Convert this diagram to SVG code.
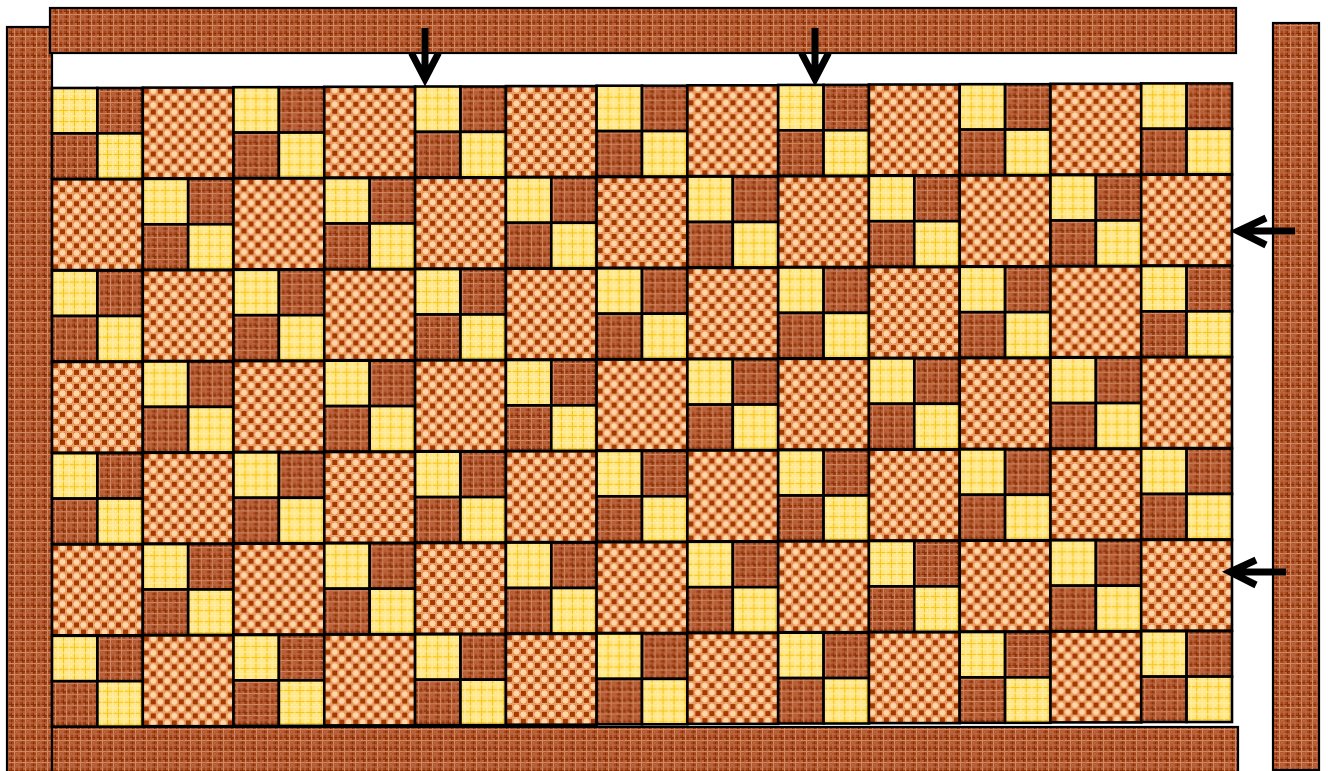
<svg xmlns="http://www.w3.org/2000/svg" xmlns:xlink="http://www.w3.org/1999/xlink" width="1328" height="771" viewBox="0 0 1328 771">
<style>
.bd{stroke:#000;stroke-width:2.2;fill:url(#plaid)}
.blk{stroke:#000;stroke-width:2.6}
.arr{fill:none;stroke:#000;stroke-width:7;stroke-linejoin:miter;stroke-miterlimit:10}
</style>
<defs>
<pattern id="plaid" width="11" height="11" patternUnits="userSpaceOnUse">
<rect width="11" height="11" fill="#a9471a"/>
<rect x="0" y="0" width="1.2" height="11" fill="#8a3005"/>
<rect x="0" y="0" width="11" height="1.2" fill="#8a3005"/>
<rect x="3" y="0" width="1.2" height="11" fill="#d08a66"/>
<rect x="0" y="3" width="11" height="1.2" fill="#d08a66"/>
<rect x="7.5" y="0" width="1" height="11" fill="#c27352"/>
<rect x="0" y="7.5" width="11" height="1" fill="#c27352"/>
<rect x="5.5" y="5.5" width="0.9" height="0.9" fill="#f4dccc"/>
<rect x="1.5" y="9.5" width="0.9" height="0.9" fill="#f4dccc"/>
<rect x="9.5" y="1.5" width="0.9" height="0.9" fill="#f4dccc"/>
</pattern>
<pattern id="yel" width="11" height="11" patternUnits="userSpaceOnUse">
<rect width="11" height="11" fill="#ffe47e"/>
<rect x="0" y="0" width="1" height="11" fill="#f6c51a"/>
<rect x="0" y="0" width="11" height="1" fill="#f6c51a"/>
<rect x="5.5" y="0" width="1" height="11" fill="#fff1ae"/>
<rect x="0" y="5.5" width="11" height="1" fill="#fff1ae"/>
<rect x="3" y="3" width="0.9" height="0.9" fill="#ffffff"/>
<rect x="8" y="8" width="0.9" height="0.9" fill="#ffffff"/>
<rect x="8" y="3" width="0.9" height="0.9" fill="#fffbe0"/>
</pattern>
<pattern id="chk" width="14" height="14" patternUnits="userSpaceOnUse">
<rect width="14" height="14" fill="#eea266"/>
<circle cx="10.5" cy="3.5" r="3.7" fill="#ffd6a8" stroke="#d8783a" stroke-width="0.8"/>
<circle cx="3.5" cy="10.5" r="3.7" fill="#ffd6a8" stroke="#d8783a" stroke-width="0.8"/>
<rect x="1" y="1" width="5" height="5" fill="#a33a04"/>
<rect x="8" y="8" width="5" height="5" fill="#a33a04"/>
</pattern>
<g id="fp">
<rect class="blk" x="0" y="0" width="45.4" height="45.4" fill="url(#yel)"/>
<rect class="blk" x="45.4" y="0" width="45.4" height="45.4" fill="url(#plaid)"/>
<rect class="blk" x="0" y="45.4" width="45.4" height="45.4" fill="url(#plaid)"/>
<rect class="blk" x="45.4" y="45.4" width="45.4" height="45.4" fill="url(#yel)"/>
</g>
<g id="ck">
<rect class="blk" x="0" y="0" width="90.8" height="90.8" fill="url(#chk)"/>
</g>
</defs>
<rect width="1328" height="771" fill="#fff"/>
<g id="borders">
<rect id="border-left" class="bd" x="7" y="27" width="45" height="760"/>
<rect id="border-top" class="bd" x="50" y="8" width="1186" height="45"/>
<rect id="border-right" class="bd" x="1273" y="23" width="46" height="747"/>
<rect id="border-bottom" class="bd" x="52" y="727" width="1186" height="60"/>
</g>
<g id="quilt">
<g id="col0" transform="translate(52,0)">
<g id="b0-0" transform="translate(0,88)"><use href="#fp"/></g>
<g id="b1-0" transform="translate(0,179.3)"><use href="#ck"/></g>
<g id="b2-0" transform="translate(0,270.6)"><use href="#fp"/></g>
<g id="b3-0" transform="translate(0,361.9)"><use href="#ck"/></g>
<g id="b4-0" transform="translate(0,453.2)"><use href="#fp"/></g>
<g id="b5-0" transform="translate(0,544.5)"><use href="#ck"/></g>
<g id="b6-0" transform="translate(0,635.8)"><use href="#fp"/></g>
</g>
<g id="col1" transform="translate(142.8,-0.4)">
<g id="b0-1" transform="translate(0,88)"><use href="#ck"/></g>
<g id="b1-1" transform="translate(0,179.3)"><use href="#fp"/></g>
<g id="b2-1" transform="translate(0,270.6)"><use href="#ck"/></g>
<g id="b3-1" transform="translate(0,361.9)"><use href="#fp"/></g>
<g id="b4-1" transform="translate(0,453.2)"><use href="#ck"/></g>
<g id="b5-1" transform="translate(0,544.5)"><use href="#fp"/></g>
<g id="b6-1" transform="translate(0,635.8)"><use href="#ck"/></g>
</g>
<g id="col2" transform="translate(233.5,-0.8)">
<g id="b0-2" transform="translate(0,88)"><use href="#fp"/></g>
<g id="b1-2" transform="translate(0,179.3)"><use href="#ck"/></g>
<g id="b2-2" transform="translate(0,270.6)"><use href="#fp"/></g>
<g id="b3-2" transform="translate(0,361.9)"><use href="#ck"/></g>
<g id="b4-2" transform="translate(0,453.2)"><use href="#fp"/></g>
<g id="b5-2" transform="translate(0,544.5)"><use href="#ck"/></g>
<g id="b6-2" transform="translate(0,635.8)"><use href="#fp"/></g>
</g>
<g id="col3" transform="translate(324.3,-1.2)">
<g id="b0-3" transform="translate(0,88)"><use href="#ck"/></g>
<g id="b1-3" transform="translate(0,179.3)"><use href="#fp"/></g>
<g id="b2-3" transform="translate(0,270.6)"><use href="#ck"/></g>
<g id="b3-3" transform="translate(0,361.9)"><use href="#fp"/></g>
<g id="b4-3" transform="translate(0,453.2)"><use href="#ck"/></g>
<g id="b5-3" transform="translate(0,544.5)"><use href="#fp"/></g>
<g id="b6-3" transform="translate(0,635.8)"><use href="#ck"/></g>
</g>
<g id="col4" transform="translate(415.1,-1.5)">
<g id="b0-4" transform="translate(0,88)"><use href="#fp"/></g>
<g id="b1-4" transform="translate(0,179.3)"><use href="#ck"/></g>
<g id="b2-4" transform="translate(0,270.6)"><use href="#fp"/></g>
<g id="b3-4" transform="translate(0,361.9)"><use href="#ck"/></g>
<g id="b4-4" transform="translate(0,453.2)"><use href="#fp"/></g>
<g id="b5-4" transform="translate(0,544.5)"><use href="#ck"/></g>
<g id="b6-4" transform="translate(0,635.8)"><use href="#fp"/></g>
</g>
<g id="col5" transform="translate(505.9,-1.9)">
<g id="b0-5" transform="translate(0,88)"><use href="#ck"/></g>
<g id="b1-5" transform="translate(0,179.3)"><use href="#fp"/></g>
<g id="b2-5" transform="translate(0,270.6)"><use href="#ck"/></g>
<g id="b3-5" transform="translate(0,361.9)"><use href="#fp"/></g>
<g id="b4-5" transform="translate(0,453.2)"><use href="#ck"/></g>
<g id="b5-5" transform="translate(0,544.5)"><use href="#fp"/></g>
<g id="b6-5" transform="translate(0,635.8)"><use href="#ck"/></g>
</g>
<g id="col6" transform="translate(596.6,-2.3)">
<g id="b0-6" transform="translate(0,88)"><use href="#fp"/></g>
<g id="b1-6" transform="translate(0,179.3)"><use href="#ck"/></g>
<g id="b2-6" transform="translate(0,270.6)"><use href="#fp"/></g>
<g id="b3-6" transform="translate(0,361.9)"><use href="#ck"/></g>
<g id="b4-6" transform="translate(0,453.2)"><use href="#fp"/></g>
<g id="b5-6" transform="translate(0,544.5)"><use href="#ck"/></g>
<g id="b6-6" transform="translate(0,635.8)"><use href="#fp"/></g>
</g>
<g id="col7" transform="translate(687.4,-2.7)">
<g id="b0-7" transform="translate(0,88)"><use href="#ck"/></g>
<g id="b1-7" transform="translate(0,179.3)"><use href="#fp"/></g>
<g id="b2-7" transform="translate(0,270.6)"><use href="#ck"/></g>
<g id="b3-7" transform="translate(0,361.9)"><use href="#fp"/></g>
<g id="b4-7" transform="translate(0,453.2)"><use href="#ck"/></g>
<g id="b5-7" transform="translate(0,544.5)"><use href="#fp"/></g>
<g id="b6-7" transform="translate(0,635.8)"><use href="#ck"/></g>
</g>
<g id="col8" transform="translate(778.2,-3.1)">
<g id="b0-8" transform="translate(0,88)"><use href="#fp"/></g>
<g id="b1-8" transform="translate(0,179.3)"><use href="#ck"/></g>
<g id="b2-8" transform="translate(0,270.6)"><use href="#fp"/></g>
<g id="b3-8" transform="translate(0,361.9)"><use href="#ck"/></g>
<g id="b4-8" transform="translate(0,453.2)"><use href="#fp"/></g>
<g id="b5-8" transform="translate(0,544.5)"><use href="#ck"/></g>
<g id="b6-8" transform="translate(0,635.8)"><use href="#fp"/></g>
</g>
<g id="col9" transform="translate(868.9,-3.5)">
<g id="b0-9" transform="translate(0,88)"><use href="#ck"/></g>
<g id="b1-9" transform="translate(0,179.3)"><use href="#fp"/></g>
<g id="b2-9" transform="translate(0,270.6)"><use href="#ck"/></g>
<g id="b3-9" transform="translate(0,361.9)"><use href="#fp"/></g>
<g id="b4-9" transform="translate(0,453.2)"><use href="#ck"/></g>
<g id="b5-9" transform="translate(0,544.5)"><use href="#fp"/></g>
<g id="b6-9" transform="translate(0,635.8)"><use href="#ck"/></g>
</g>
<g id="col10" transform="translate(959.7,-3.8)">
<g id="b0-10" transform="translate(0,88)"><use href="#fp"/></g>
<g id="b1-10" transform="translate(0,179.3)"><use href="#ck"/></g>
<g id="b2-10" transform="translate(0,270.6)"><use href="#fp"/></g>
<g id="b3-10" transform="translate(0,361.9)"><use href="#ck"/></g>
<g id="b4-10" transform="translate(0,453.2)"><use href="#fp"/></g>
<g id="b5-10" transform="translate(0,544.5)"><use href="#ck"/></g>
<g id="b6-10" transform="translate(0,635.8)"><use href="#fp"/></g>
</g>
<g id="col11" transform="translate(1050.5,-4.2)">
<g id="b0-11" transform="translate(0,88)"><use href="#ck"/></g>
<g id="b1-11" transform="translate(0,179.3)"><use href="#fp"/></g>
<g id="b2-11" transform="translate(0,270.6)"><use href="#ck"/></g>
<g id="b3-11" transform="translate(0,361.9)"><use href="#fp"/></g>
<g id="b4-11" transform="translate(0,453.2)"><use href="#ck"/></g>
<g id="b5-11" transform="translate(0,544.5)"><use href="#fp"/></g>
<g id="b6-11" transform="translate(0,635.8)"><use href="#ck"/></g>
</g>
<g id="col12" transform="translate(1141.2,-4.6)">
<g id="b0-12" transform="translate(0,88)"><use href="#fp"/></g>
<g id="b1-12" transform="translate(0,179.3)"><use href="#ck"/></g>
<g id="b2-12" transform="translate(0,270.6)"><use href="#fp"/></g>
<g id="b3-12" transform="translate(0,361.9)"><use href="#ck"/></g>
<g id="b4-12" transform="translate(0,453.2)"><use href="#fp"/></g>
<g id="b5-12" transform="translate(0,544.5)"><use href="#ck"/></g>
<g id="b6-12" transform="translate(0,635.8)"><use href="#fp"/></g>
</g>
</g>
<g id="connectors">
<path class="arr" d="M425 28 V78 M411.5 53 L425 79 L438.5 53"/>
<path class="arr" d="M815 28 V78 M801.5 53 L815 79 L828.5 53"/>
<path class="arr" d="M1295 231 H1240 M1266 218 L1238 231 L1266 245"/>
<path class="arr" d="M1286 572 H1232 M1256 560 L1230 572 L1256 585"/>
</g>
</svg>
